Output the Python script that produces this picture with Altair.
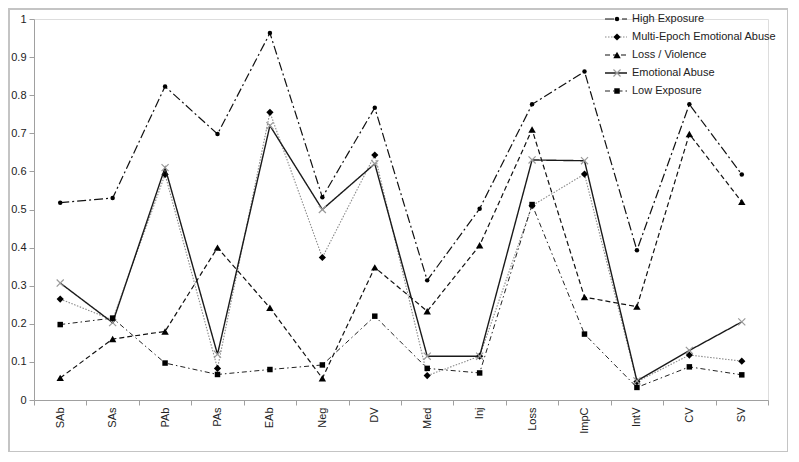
import altair as alt
import pandas as pd

categories = ["SAb", "SAs", "PAb", "PAs", "EAb", "Neg", "DV", "Med", "Inj", "Loss", "ImpC", "IntV", "CV", "SV"]
series_names = ["High Exposure", "Multi-Epoch Emotional Abuse", "Loss / Violence", "Emotional Abuse", "Low Exposure"]

high_exposure = [0.518, 0.530, 0.823, 0.698, 0.963, 0.532, 0.767, 0.314, 0.502, 0.776, 0.862, 0.393, 0.776, 0.592]
multi_epoch_ea = [0.265, 0.210, 0.592, 0.083, 0.755, 0.374, 0.643, 0.064, 0.115, 0.510, 0.593, 0.048, 0.118, 0.102]
loss_violence = [0.058, 0.160, 0.180, 0.400, 0.242, 0.057, 0.348, 0.233, 0.406, 0.710, 0.270, 0.245, 0.698, 0.520]
emotional_abuse = [0.307, 0.203, 0.610, 0.120, 0.720, 0.500, 0.620, 0.115, 0.115, 0.630, 0.628, 0.050, 0.130, 0.205]
low_exposure = [0.198, 0.215, 0.097, 0.067, 0.080, 0.092, 0.220, 0.083, 0.071, 0.513, 0.173, 0.033, 0.087, 0.066]

values = [high_exposure, multi_epoch_ea, loss_violence, emotional_abuse, low_exposure]

FONT = "Liberation Sans"
W, H = 734, 381

styles = {
    "High Exposure": dict(dash=[9, 3, 2, 3], color="#111111", width=1.2, shape="circle", size=20, filled=True),
    "Multi-Epoch Emotional Abuse": dict(dash=[1.5, 1.5], color="#8a8a8a", width=1.1, shape="diamond", size=52, filled=True),
    "Loss / Violence": dict(dash=[5, 3], color="#111111", width=1.2, shape="triangle-up", size=55, filled=True),
    "Emotional Abuse": dict(dash=[1, 0], color="#1a1a1a", width=1.4, shape="M-1,-1L1,1M-1,1L1,-1", size=50, filled=False),
    "Low Exposure": dict(dash=[5, 3, 1.5, 3], color="#222222", width=1.0, shape="square", size=30, filled=True),
}

x_enc = alt.X("cat:N", sort=categories, bandPosition=0.5,
              scale=alt.Scale(type="band", paddingInner=0, paddingOuter=0),
              axis=alt.Axis(title=None, tickBand="extent", labelAngle=-90, labelFont=FONT,
                            labelFontSize=11, labelColor="#222222", domainColor="#a0a0a0",
                            tickColor="#a0a0a0", tickSize=5, labelPadding=2, grid=False))
y_enc = alt.Y("value:Q", scale=alt.Scale(domain=[0, 1], nice=False),
              axis=alt.Axis(title=None, values=[0, 0.1, 0.2, 0.3, 0.4, 0.5, 0.6, 0.7, 0.8, 0.9, 1],
                            format="~g", labelFont=FONT, labelFontSize=11, labelColor="#222222",
                            domainColor="#a0a0a0", tickColor="#a0a0a0", tickSize=5,
                            labelPadding=3, grid=False))

legend_df = pd.DataFrame({"series": series_names})
leg_y = alt.Y("series:N", sort=series_names,
              scale=alt.Scale(type="point", domain=series_names, range=[0, 72], padding=0), axis=None)

border = alt.Chart(legend_df).mark_rect(fill=None, stroke="#c4c4c4", strokeWidth=1.5).encode(
    x=alt.value(-25), x2=alt.value(754), y=alt.value(-10), y2=alt.value(433))

main_layers = [border]
leg_layers = []
for name, vals in zip(series_names, values):
    s = styles[name]
    d = pd.DataFrame({"cat": categories, "value": vals})
    ch = alt.Chart(d)
    main_layers.append(ch.mark_line(stroke=s["color"], strokeDash=s["dash"], strokeWidth=s["width"]).encode(
        x=x_enc, y=y_enc))
    if s["filled"]:
        pm = dict(filled=True, fill="#000000", stroke=None, opacity=1)
    else:
        pm = dict(filled=False, stroke="#9a9a9a", strokeWidth=1.2, opacity=1)
    main_layers.append(ch.mark_point(shape=s["shape"], size=s["size"], **pm).encode(x=x_enc, y=y_enc))

    ld = legend_df[legend_df["series"] == name]
    lc = alt.Chart(ld)
    leg_layers.append(lc.mark_rule(stroke=s["color"], strokeDash=s["dash"], strokeWidth=s["width"]).encode(
        x=alt.value(571), x2=alt.value(593), y=leg_y))
    leg_layers.append(lc.mark_point(shape=s["shape"], size=s["size"], **pm).encode(
        x=alt.value(583), y=leg_y))

leg_layers.append(alt.Chart(legend_df).mark_text(align="left", baseline="middle", font=FONT, fontSize=11,
                                                 color="#222222").encode(x=alt.value(598), y=leg_y, text="series:N"))

main = alt.layer(*main_layers)
legend = alt.layer(*leg_layers)

chart = alt.layer(main, legend).resolve_scale(y="independent").properties(
    width=W, height=H,
    autosize=alt.AutoSizeParams(type="none"),
    padding={"left": 26, "top": 11, "right": 20, "bottom": 52},
).configure_view(stroke=None).configure(background="white")

chart.save("out.html", embed_options={"renderer": "svg", "actions": False})
